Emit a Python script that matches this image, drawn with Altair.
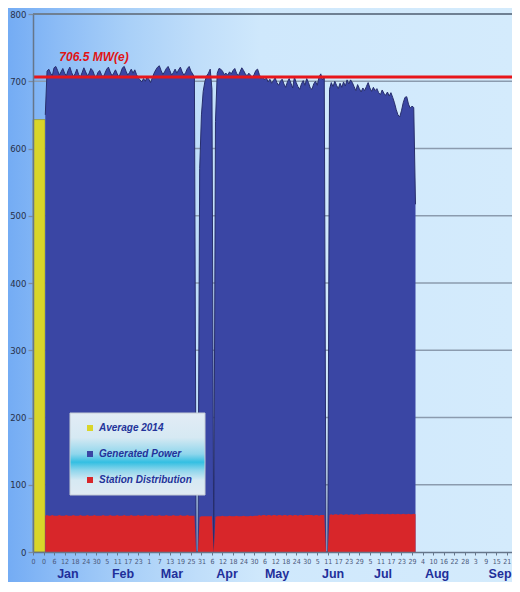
import json
import altair as alt
import pandas as pd

# ---------------- data ----------------
gen_jan = [650, 715, 718, 712, 708, 720, 722, 716, 709, 714,
           719, 712, 708, 716, 721, 713, 707, 711, 718, 710,
           706, 713, 720, 714, 708, 712, 719, 716, 709, 706,
           713]
gen_feb = [716, 710, 706, 712, 718, 721, 714, 708, 712, 717,
           711, 706, 713, 720, 722, 715, 709, 713, 718, 712,
           717, 710, 705, 702, 699, 704, 700, 706]
gen_mar = [703, 698, 705, 712, 717, 721, 723, 716, 710, 714,
           719, 722, 716, 709, 713, 718, 712, 717, 721, 714,
           709, 713, 719, 722, 715, 711, 706, 0, 0, 570,
           650]
gen_apr = [685, 700, 708, 712, 718, 688, 0, 640, 712, 719,
           718, 715, 710, 712, 709, 714, 711, 716, 719, 712,
           708, 714, 720, 716, 711, 708, 712, 709, 706, 710]
gen_may = [716, 718, 710, 704, 707, 702, 705, 699, 703, 697,
           701, 705, 698, 694, 700, 703, 696, 691, 699, 704,
           697, 690, 706, 698, 692, 688, 696, 701, 694, 704,
           698]
gen_jun = [690, 688, 696, 700, 694, 706, 711, 702, 706, 0,
           0, 688, 698, 692, 700, 694, 689, 697, 691, 699,
           693, 702, 696, 702, 698, 692, 686, 695, 689, 684]
gen_jul = [690, 686, 692, 698, 690, 685, 691, 686, 689, 683,
           680, 687, 682, 679, 684, 678, 683, 676, 668, 658,
           650, 647, 656, 668, 676, 677, 666, 660, 663, 661,
           517]

st_jan = [54, 55, 54, 54, 55, 54, 54, 54, 55, 54,
          54, 54, 55, 54, 54, 54, 55, 54, 54, 54,
          55, 54, 54, 54, 55, 54, 54, 54, 55, 54,
          54]
st_feb = [54, 54, 55, 54, 54, 54, 55, 54, 54, 54,
          55, 54, 54, 54, 55, 54, 54, 54, 55, 54,
          54, 54, 55, 54, 54, 54, 55, 54]
st_mar = [54, 54, 55, 54, 54, 54, 55, 54, 54, 54,
          55, 54, 54, 54, 55, 54, 54, 54, 55, 54,
          54, 54, 55, 54, 54, 54, 54, 0, 0, 52,
          53]
st_apr = [53, 53, 53, 53, 53, 53, 0, 52, 53, 53,
          53, 54, 53, 53, 53, 54, 53, 53, 53, 54,
          53, 53, 53, 54, 53, 53, 53, 54, 53, 54]
st_may = [54, 54, 55, 54, 55, 55, 54, 55, 55, 54,
          55, 55, 54, 55, 55, 54, 55, 55, 54, 55,
          55, 54, 55, 55, 54, 55, 55, 54, 55, 55,
          55]
st_jun = [55, 55, 54, 55, 55, 54, 55, 55, 55, 0,
          0, 55, 56, 55, 56, 56, 55, 56, 56, 55,
          56, 56, 55, 56, 56, 55, 56, 56, 55, 56]
st_jul = [56, 56, 57, 56, 56, 57, 56, 56, 57, 56,
          56, 57, 56, 56, 57, 56, 56, 57, 56, 56,
          57, 56, 56, 57, 56, 56, 57, 56, 56, 57,
          56]

first_day = 1
avg_value = 643
avg_start = -6
avg_end = 0.9
ref_value = 706.5
ref_label = "706.5 MW(e)"
ref_label_day = 9
ref_label_value = 736

tick_days = [-6, 0, 6, 12, 18, 24, 30, 36, 42, 48, 54, 60, 66, 72, 78, 84, 90,
             96, 102, 108, 114, 120, 126, 132, 138, 144, 150, 156, 162, 168,
             174, 180, 186, 192, 198, 204, 210, 216, 222, 228, 234, 240, 246,
             252, 258, 264, 270]
tick_labels = ["0", "0", "6", "12", "18", "24", "30", "5", "11", "17", "23",
               "1", "7", "13", "19", "25", "31", "6", "12", "18", "24", "30",
               "6", "12", "18", "24", "30", "5", "11", "17", "23", "29", "5",
               "11", "17", "23", "29", "4", "10", "16", "22", "28", "3", "9",
               "15", "21", "27"]
months = ["Jan", "Feb", "Mar", "Apr", "May", "Jun", "Jul", "Aug", "Sep"]
month_label_day = [13.9, 45.3, 73.2, 104.6, 133.1, 165.0, 193.5, 224.3, 260.2]
y_ticks = [0, 100, 200, 300, 400, 500, 600, 700, 800]
grid_values = [100, 200, 300, 400, 500, 600, 700]

series_names = ["Average 2014", "Generated Power", "Station Distribution"]
series_colors = ["#d9d52a", "#3a46a4", "#d8262a"]

# ---------------- tables ----------------
gen = gen_jan + gen_feb + gen_mar + gen_apr + gen_may + gen_jun + gen_jul
st = st_jan + st_feb + st_mar + st_apr + st_may + st_jun + st_jul
days = list(range(first_day, first_day + len(gen)))
gen_df = pd.DataFrame({"day": days, "value": gen, "series": "Generated Power"})
st_df = pd.DataFrame({"day": days, "value": st, "series": "Station Distribution"})
avg_df = pd.DataFrame({"x": [avg_start], "x2": [avg_end], "value": [avg_value],
                       "base": [0], "series": ["Average 2014"]})
ref_df = pd.DataFrame({"value": [ref_value]})
ref_txt_df = pd.DataFrame({"day": [ref_label_day], "value": [ref_label_value],
                           "t": [ref_label]})
month_df = pd.DataFrame({"day": month_label_day, "m": months})
grid_df = pd.DataFrame({"value": grid_values})
top_df = pd.DataFrame({"value": [800]})
one = pd.DataFrame({"k": [0]})

W, H = 479, 538
X_MIN, X_MAX = -6, 267
narrow = "Liberation Sans Narrow, DejaVu Sans Condensed, Liberation Sans"

shown = [d for d in tick_days if X_MIN <= d <= X_MAX]
label_expr = "{}[indexof({}, datum.value)]".format(json.dumps(tick_labels), json.dumps(tick_days))

x_scale = alt.Scale(domain=[X_MIN, X_MAX], nice=False, zero=False)
y_scale = alt.Scale(domain=[0, 800], nice=False)
x_axis = alt.Axis(values=shown, labelExpr=label_expr, title=None, grid=False,
                  domainColor="#66768a", domainWidth=1.5, tickColor="#66768a",
                  tickSize=3, labelFont=narrow, labelFontSize=7, labelColor="#4a587a",
                  labelPadding=2, labelOverlap=False, labelFlush=False, zindex=1)
y_axis = alt.Axis(values=y_ticks, title=None, grid=False, domainColor="#66768a",
                  domainWidth=1.5, tickColor="#7d8c9e", tickSize=5, tickWidth=1.3,
                  labelFont=narrow, labelFontSize=9.5, labelColor="#283048",
                  labelPadding=2, zindex=1)
color = alt.Color("series:N", scale=alt.Scale(domain=series_names, range=series_colors),
                  legend=alt.Legend(orient="none", legendX=52, legendY=409, title=None,
                                    symbolType="square", symbolSize=36,
                                    symbolStrokeWidth=0, labelFont="Liberation Sans",
                                    labelFontSize=10, labelFontStyle="italic",
                                    labelFontWeight="bold", labelColor="#23339a",
                                    rowPadding=16, padding=0, labelOffset=4))

X = lambda f: alt.X(f, scale=x_scale, axis=x_axis)
Y = lambda f: alt.Y(f, scale=y_scale, axis=y_axis)

bg_grad = {"gradient": "linear", "x1": 0, "y1": 0, "x2": 1, "y2": 0,
           "stops": [{"offset": 0, "color": "#74acf4"},
                     {"offset": 0.10, "color": "#8cbcf6"},
                     {"offset": 0.24, "color": "#a9d0f8"},
                     {"offset": 0.38, "color": "#c0defa"},
                     {"offset": 0.50, "color": "#cfe8fc"},
                     {"offset": 1, "color": "#d4ebfc"}]}
leg_grad = {"gradient": "linear", "x1": 0, "y1": 0, "x2": 0, "y2": 1,
            "stops": [{"offset": 0, "color": "#e2ecf5"},
                      {"offset": 0.3, "color": "#d6e9f3"},
                      {"offset": 0.5, "color": "#8fd6ec"},
                      {"offset": 0.6, "color": "#33bfe2"},
                      {"offset": 0.7, "color": "#8fd6ec"},
                      {"offset": 0.82, "color": "#d6e9f3"},
                      {"offset": 1, "color": "#e0eaf3"}]}

background = alt.Chart(one).mark_rect(fill=bg_grad).encode(
    x=alt.value(-25), x2=alt.value(W), y=alt.value(-6), y2=alt.value(H + 30))

grid = alt.Chart(grid_df).mark_rule(color="#8b9bae", strokeWidth=1.3).encode(y=Y("value:Q"))
top = alt.Chart(top_df).mark_rule(color="#6f8093", strokeWidth=2).encode(y=Y("value:Q"))

avg_bar = alt.Chart(avg_df).mark_rect(opacity=1, stroke="#8a8630", strokeWidth=0.6).encode(
    x=X("x:Q"), x2="x2:Q", y=Y("value:Q"), y2="base:Q", color=color)

gen_area = alt.Chart(gen_df).mark_area(opacity=1, interpolate="linear").encode(
    x=X("day:Q"), y=Y("value:Q"), color=color)
gen_line = alt.Chart(gen_df).mark_line(color="#272e6c", strokeWidth=1).encode(
    x=X("day:Q"), y=Y("value:Q"))
st_area = alt.Chart(st_df).mark_area(opacity=1, interpolate="linear").encode(
    x=X("day:Q"), y=Y("value:Q"), color=color)

ref_rule = alt.Chart(ref_df).mark_rule(color="#e8161b", strokeWidth=3).encode(y=Y("value:Q"))
ref_text = alt.Chart(ref_txt_df).mark_text(
    align="left", baseline="middle", font="Liberation Sans", fontSize=12,
    fontStyle="italic", fontWeight="bold", color="#e01515").encode(
    x=X("day:Q"), y=Y("value:Q"), text="t:N")

month_text = alt.Chart(month_df).mark_text(
    baseline="middle", font="Liberation Sans", fontSize=12.5, fontWeight="bold",
    color="#1f2f9a").encode(x=X("day:Q"), y=alt.value(H + 22), text="m:N")

legend_box = alt.Chart(one).mark_rect(fill=leg_grad, stroke="#c4ccd4", strokeWidth=1).encode(
    x=alt.value(37), x2=alt.value(172), y=alt.value(399), y2=alt.value(481))

chart = alt.layer(
    background, grid, top, avg_bar, gen_area, gen_line, st_area,
    ref_rule, ref_text, month_text, legend_box
).properties(
    width=W, height=H,
    autosize=alt.AutoSizeParams(type="none"),
    padding={"left": 25, "top": 6, "right": 0, "bottom": 30},
    background="white",
).configure_view(strokeWidth=0)

chart.save("out.html", embed_options={"renderer": "svg", "actions": False})
